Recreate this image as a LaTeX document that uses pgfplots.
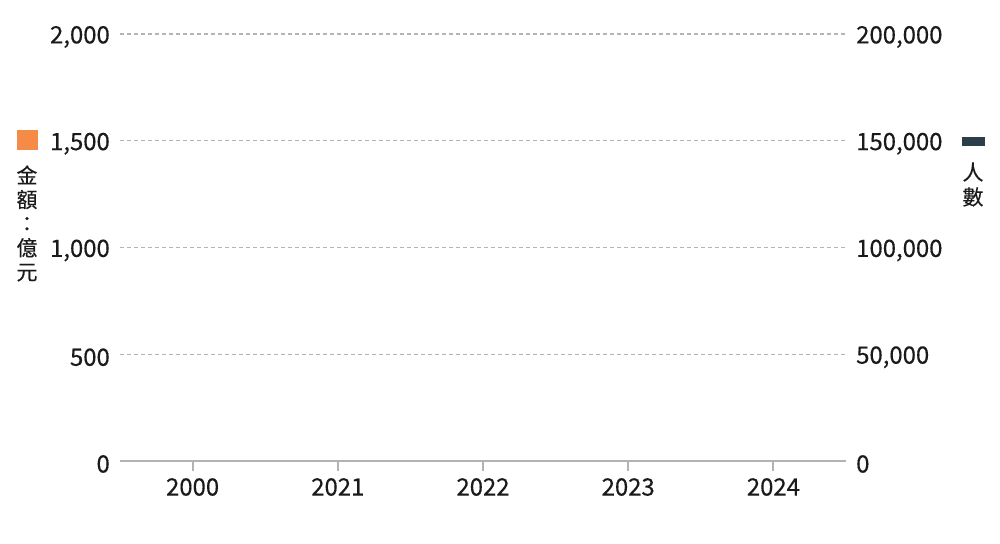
\documentclass[border=0pt]{standalone}
\usepackage{pgfplots}
\pgfplotsset{compat=1.18}
\usepackage{fontspec}
\setmainfont{Noto Sans CJK TC}[FakeBold=0.4]
\definecolor{gridc}{HTML}{B4B4B4}
\definecolor{axc}{HTML}{B3B3B3}
\definecolor{txt}{HTML}{1A1A1A}
\definecolor{orng}{HTML}{F68B47}
\definecolor{dark}{HTML}{2D3E4B}
\begin{document}
\begin{tikzpicture}[x=1bp,y=1bp]
\useasboundingbox (0,0) rectangle (1000,544);
\begin{axis}[at={(120bp,83bp)}, anchor=south west, scale only axis,
  width=726bp, height=427bp,
  xmin=-0.5, xmax=4.5, ymin=0, ymax=2000,
  xtick={0,1,2,3,4}, xticklabels={2000,2021,2022,2023,2024},
  ytick={0,500,1000,1500,2000},
  yticklabels={0,500,{1,000},{1,500},{2,000}},
  axis x line*=bottom, axis y line*=left,
  y axis line style={draw=none},
  x axis line style={draw=axc, line width=2.4bp, -},
  xtick style={draw=axc, line width=2bp},
  ytick style={draw=none},
  tick align=outside, major tick length=10bp,
  ymajorgrids, grid style={draw=gridc, line width=1.3bp, dash pattern=on 4bp off 3bp},
  ticklabel style={font=\fontsize{24}{28}\selectfont, text=txt, inner sep=0pt},
  yticklabel style={xshift=0bp, yshift=-3bp},
  xticklabel style={yshift=-7bp},
]
\addplot[draw=none] coordinates {(0,0) (4,0)};
\end{axis}
\begin{axis}[at={(120bp,83bp)}, anchor=south west, scale only axis,
  width=726bp, height=427bp,
  xmin=-0.5, xmax=4.5, ymin=0, ymax=200000,
  scaled y ticks=false,
  axis x line=none, axis y line*=right,
  y axis line style={draw=none},
  ytick={0,50000,100000,150000,200000},
  yticklabels={0,{50,000},{100,000},{150,000},{200,000}},
  ytick style={draw=none}, major tick length=0bp,
  ticklabel style={font=\fontsize{24}{28}\selectfont, text=txt, inner sep=0pt},
  yticklabel style={xshift=10bp, yshift=-3bp},
]
\addplot[draw=none] coordinates {(0,0) (4,0)};
\end{axis}
\fill[orng] (17,394) rectangle (38,414);
\node[text=txt, font=\fontsize{21}{24.25}\selectfont, align=center, inner sep=0pt] at (27,320.5) {金\\額\\：\\億\\元};
\fill[dark] (962,398) rectangle (985,407);
\node[text=txt, font=\fontsize{21}{25}\selectfont, align=center, inner sep=0pt] at (973,359.5) {人\\數};
\end{tikzpicture}
\end{document}
